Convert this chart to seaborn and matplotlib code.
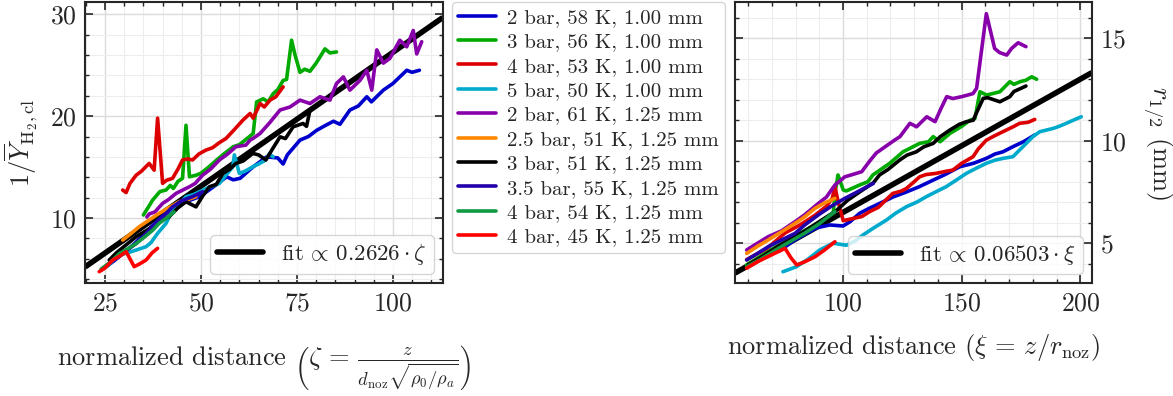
import numpy as np
import pandas as pd
import matplotlib
matplotlib.use("Agg")
import matplotlib.pyplot as plt
from matplotlib.lines import Line2D
import seaborn as sns

labels = ["2 bar, 58 K, 1.00 mm", "3 bar, 56 K, 1.00 mm", "4 bar, 53 K, 1.00 mm",
          "5 bar, 50 K, 1.00 mm", "2 bar, 61 K, 1.25 mm", "2.5 bar, 51 K, 1.25 mm",
          "3 bar, 51 K, 1.25 mm", "3.5 bar, 55 K, 1.25 mm", "4 bar, 54 K, 1.25 mm",
          "4 bar, 45 K, 1.25 mm"]
colors = ["#0000cc", "#00aa00", "#dd0000", "#00aacc", "#8800aa", "#ff8800",
          "#000000", "#2200aa", "#119944", "#ff0000"]

# left panel: 1/Y_H2,cl vs zeta
zeta_2b58 = [24, 27, 30, 33, 36.7, 40, 43, 46, 49.7, 53, 56.7, 58.4, 60.2, 63.5, 67.1, 70, 71.4, 72.5,
             75.8, 78, 80.1, 82, 84.5, 86.2, 88.8, 91, 93.2, 94.4, 97.5, 100, 101.8, 103.6, 105, 106.9]
invY_2b58 = [4.9, 5.7, 6.6, 7.6, 9.0, 10.2, 11.0, 11.6, 12.1, 13.0, 14.05, 13.75, 13.9, 15.0, 16.0, 15.9, 15.3, 16.2,
             17.65, 18.0, 18.6, 19.0, 19.5, 19.2, 20.6, 21.0, 21.9, 21.4, 22.55, 23.2, 23.85, 24.5, 24.3, 24.5]
zeta_3b56 = [35, 36.5, 37.4, 39.3, 40.9, 42, 42.8, 44, 45.2, 46.1, 47, 48.7, 50, 52, 54.1, 56, 58.4, 60, 62,
             63.6, 64.5, 66.2, 67.5, 68.8, 70, 71.4, 72.3, 73.6, 74.5, 75.8, 77, 78.4, 80, 81, 82.3, 83.6, 85.3]
invY_3b56 = [10.3, 11.2, 11.76, 12.6, 12.75, 13.2, 12.9, 13.6, 13.9, 19.1, 14.05, 14.2, 14.4, 15.0, 15.7, 16.3, 17.0, 17.2, 17.8,
             18.3, 21.4, 21.7, 21.4, 22.2, 22.6, 23.5, 23.6, 27.45, 26.0, 24.3, 24.6, 24.4, 25.2, 25.8, 26.6, 26.2, 26.3]
zeta_4b53 = [29.6, 30.5, 31.5, 33.1, 34.5, 36.5, 37.8, 38.7, 40, 41, 42.6, 44, 45.2, 46.5, 47.8, 49.5, 51.3,
             53, 54.8, 56.5, 58.5, 60.9, 62.8, 63.6, 65.4, 66.5, 68, 69.5, 71.4]
invY_4b53 = [12.75, 12.5, 13.4, 14.2, 14.6, 15.36, 14.7, 19.8, 13.4, 13.7, 13.9, 14.8, 15.7, 15.8, 15.7, 16.3, 16.67,
             16.9, 17.4, 17.8, 18.6, 19.6, 20.26, 19.8, 21.24, 20.9, 21.57, 21.9, 22.87]
zeta_5b50 = [24, 26, 28.7, 31, 33.1, 35.7, 37, 38.7, 40.9, 42.6, 44, 46.1, 48, 49.6, 52, 54.8, 56.5, 58.3, 58.7,
             60, 61.5, 63.5, 65, 66.9, 67.8, 68.8]
invY_5b50 = [4.9, 5.4, 6.37, 6.6, 6.86, 7.19, 7.6, 8.5, 9.48, 10.78, 11.2, 12.09, 12.3, 12.58, 13.0, 13.4, 14.2, 15.03, 16.2,
             14.38, 14.6, 15.03, 15.3, 15.7, 16.3, 16.0]
zeta_2b61 = [35.9, 36.5, 38, 40, 41.5, 43.5, 45, 47, 48.5, 50.4, 52.5, 54.8, 57, 59.1, 61.7, 62.8, 63.5, 65.4, 68,
             70.6, 73.2, 75.8, 78.4, 81, 83.6, 85.3, 87.1, 88.8, 91.4, 93.2, 94.5, 95.8, 97.5, 99.2, 101.8, 103.6,
             105.3, 106.2, 107.5]
invY_2b61 = [10.1, 10.4, 10.6, 11.44, 11.8, 12.42, 12.7, 13.07, 13.4, 14.2, 14.8, 15.7, 16.3, 17.0, 17.16, 17.65, 17.8, 18.3, 19.4,
             20.6, 20.9, 21.57, 21.24, 21.9, 21.57, 23.2, 23.85, 22.55, 23.5, 24.5, 22.55, 26.5, 25.2, 25.66, 27.45, 26.8,
             28.4, 26.1, 27.3]
zeta_25b51 = [29.6, 31.5, 33.9, 36.5, 39.1, 41.5, 44.3, 46.5, 48.7]
invY_25b51 = [7.84, 8.4, 9.15, 9.8, 10.46, 11.0, 11.6, 11.8, 12.09]
zeta_3b51 = [26.1, 28, 30.6, 33.1, 35, 37.6, 39.5, 41.7, 44, 46.1, 48.7, 50.5, 52.2, 54, 55.7, 57.5, 59.1, 61,
             63.5, 65, 66.9, 68.5, 70.6, 72, 74, 76.6, 77.5, 78.4]
invY_3b51 = [5.88, 6.6, 7.4, 8.17, 8.6, 9.2, 9.8, 10.13, 11.0, 11.6, 11.1, 12.2, 13.07, 13.3, 14.38, 14.8, 15.36, 15.6,
             16.34, 16.2, 15.7, 16.7, 17.97, 17.8, 18.95, 19.28, 19.0, 20.6]
zeta_35b55 = [25, 27.9, 30.5, 33.1, 35.5, 37.4, 40, 42.6, 45, 47.8, 50.4]
invY_35b55 = [5.2, 6.05, 6.8, 7.5, 8.4, 9.15, 10.1, 11.1, 11.7, 12.1, 12.58]
zeta_4b54 = [24, 26.5, 28.7, 31, 33.1, 35.5, 37.4, 39.1, 41, 43]
invY_4b54 = [5.0, 5.7, 6.5, 7.0, 7.5, 8.2, 8.8, 9.48, 10.0, 10.6]
zeta_4b45 = [23.5, 25, 27, 29, 30.5, 31.5, 32.6, 34, 35.7, 37.3, 38.7]
invY_4b45 = [4.74, 5.1, 5.88, 6.3, 6.7, 6.0, 5.23, 5.5, 5.88, 6.6, 7.03]

# right panel: r_1/2 vs xi
xi_2b58 = [73, 78.9, 84, 88.8, 94.4, 100, 103, 107, 111, 115.4, 121, 126.7, 132, 138, 143, 149.2, 155,
           160.4, 164, 167.4, 171.6, 176, 180.8]
r_2b58 = [4.6, 5.1, 5.45, 5.75, 5.89, 5.84, 6.05, 6.46, 6.7, 6.94, 7.25, 7.5, 7.75, 8.08, 8.35, 8.73, 8.9,
          9.14, 9.35, 9.46, 9.71, 9.95, 10.28]
xi_3b56 = [59.4, 68.5, 79.8, 89.6, 95.9, 96.6, 97.9, 100.1, 101.4, 107, 110.5, 112.6, 119.7, 125.3, 132.3, 136,
           138, 140.9, 145.1, 150, 153.5, 155.6, 157.7, 160.5, 163, 166.1, 170.3, 172, 174.6, 177, 179.5, 181.6]
r_3b56 = [3.94, 4.6, 5.35, 6.0, 6.46, 7.43, 8.33, 7.6, 7.55, 7.84, 8.0, 8.33, 8.9, 9.46, 9.87, 9.95,
          10.2, 9.95, 10.36, 10.7, 11.0, 11.09, 12.39, 12.23, 12.3, 12.39, 12.88, 12.75, 12.88, 12.95, 13.12, 13.0]
xi_4b53 = [59.4, 68, 75.6, 82, 88, 93, 95.5, 96.6, 98, 100.1, 104, 107.9, 111.2, 114.9, 118, 121, 124.7, 126.7,
           130, 132.3, 135, 139.3, 143, 146.3, 150, 154.8, 157, 160.4, 164, 168.8, 172, 174.4, 178, 180.8]
r_4b53 = [4.2, 4.75, 5.5, 5.9, 6.35, 6.8, 7.2, 7.76, 7.0, 6.1, 6.2, 6.3, 6.54, 6.75, 7.1, 7.43, 7.55, 7.67,
          8.0, 8.24, 8.35, 8.41, 8.5, 8.57, 8.9, 9.22, 9.6, 10.03, 10.25, 10.52, 10.7, 10.85, 10.9, 11.04]
xi_5b50 = [74.7, 80.3, 85, 90.2, 95.8, 101.4, 105, 108.4, 113, 118.3, 122, 126.7, 131, 135.1, 139, 143.5, 148,
           152, 156, 160.4, 164, 167.4, 171.6, 174, 177.2, 180, 182.9, 185, 188.5, 191, 194.1, 197, 200.4]
r_5b50 = [3.61, 3.85, 4.2, 4.67, 5.0, 4.9, 5.1, 5.4, 5.75, 6.13, 6.45, 6.78, 7.0, 7.27, 7.5, 7.76, 8.1,
          8.41, 8.65, 8.9, 9.05, 9.14, 9.22, 9.5, 9.87, 10.2, 10.44, 10.5, 10.6, 10.7, 10.85, 11.0, 11.17]
xi_2b61 = [59.4, 64, 68.5, 74, 79.8, 84, 89.6, 93, 96.6, 100.8, 104, 107.9, 111.2, 114, 118.3, 122, 124, 128.2,
           131, 135.3, 138.8, 141, 143.7, 146.3, 150, 154.8, 156.3, 160.4, 163.9, 166, 169, 171, 173.8, 177.1]
r_2b61 = [4.67, 5.0, 5.32, 5.6, 6.05, 6.4, 6.94, 7.25, 7.84, 8.24, 8.35, 8.49, 9.0, 9.4, 9.75, 10.05, 10.2, 10.85,
          10.68, 11.17, 10.93, 11.5, 12.15, 12.06, 12.15, 12.3, 12.56, 16.2, 14.5, 14.3, 14.18, 14.5, 14.78, 14.59]
xi_25b51 = [59.4, 64, 68.5, 74, 79.8, 84, 88.2, 92, 96.6]
r_25b51 = [4.5, 4.85, 5.16, 5.55, 5.97, 6.3, 6.7, 6.95, 7.19]
xi_3b51 = [60, 66, 72, 78, 84, 90, 97.3, 102, 107, 112.8, 115.4, 119, 123.9, 127, 130.9, 134, 138, 141, 145,
           149, 152, 154.9, 156, 159.1, 161, 166.1, 170.3, 172, 177.1]
r_3b51 = [3.95, 4.35, 4.8, 5.2, 5.6, 6.05, 6.6, 7.1, 7.5, 7.95, 8.33, 8.6, 9.06, 9.3, 9.46, 9.7, 9.87, 10.2, 10.52,
          10.8, 10.93, 11.0, 11.3, 12.07, 12.1, 11.9, 12.15, 12.4, 12.67]
xi_35b55 = [59.4, 64, 68.5, 74, 79.8, 84, 89.6, 95, 100.8, 106, 112.8]
r_35b55 = [4.18, 4.5, 4.83, 5.15, 5.48, 5.9, 6.38, 6.8, 7.19, 7.5, 7.92]
xi_4b54 = [59.4, 65, 72, 78, 84, 90, 96.6]
r_4b54 = [3.85, 4.2, 4.7, 5.1, 5.5, 5.95, 6.55]
xi_4b45 = [59.4, 64, 68.5, 72, 75.6, 78, 80.5, 84, 88.2, 92, 96.6]
r_4b45 = [3.78, 4.1, 4.35, 4.55, 4.75, 4.3, 3.94, 4.1, 4.34, 4.65, 5.07]

fit_left = 0.2626
fit_right = 0.06503

left_x = [zeta_2b58, zeta_3b56, zeta_4b53, zeta_5b50, zeta_2b61, zeta_25b51, zeta_3b51, zeta_35b55, zeta_4b54, zeta_4b45]
left_y = [invY_2b58, invY_3b56, invY_4b53, invY_5b50, invY_2b61, invY_25b51, invY_3b51, invY_35b55, invY_4b54, invY_4b45]
right_x = [xi_2b58, xi_3b56, xi_4b53, xi_5b50, xi_2b61, xi_25b51, xi_3b51, xi_35b55, xi_4b54, xi_4b45]
right_y = [r_2b58, r_3b56, r_4b53, r_5b50, r_2b61, r_25b51, r_3b51, r_35b55, r_4b54, r_4b45]


def long_frame(xs, ys):
    rows = []
    for lab, x, y in zip(labels, xs, ys):
        rows.append(pd.DataFrame({"x": x, "y": y, "label": lab}))
    return pd.concat(rows, ignore_index=True)


sns.set_theme(style="ticks")
plt.rcParams.update({
    "font.family": "serif",
    "font.serif": ["cmr10"],
    "mathtext.fontset": "cm",
    "axes.formatter.use_mathtext": True,
    "font.size": 18,
    "axes.linewidth": 1.5,
    "xtick.direction": "in", "ytick.direction": "in",
    "xtick.top": True, "ytick.right": True,
    "xtick.major.size": 5.5, "ytick.major.size": 5.5,
    "xtick.minor.size": 2.8, "ytick.minor.size": 2.8,
    "xtick.major.width": 1.2, "ytick.major.width": 1.2,
    "xtick.minor.width": 1.0, "ytick.minor.width": 1.0,
    "xtick.labelsize": 18.5, "ytick.labelsize": 18.5,
    "axes.labelsize": 18.5,
})

fig = plt.figure(figsize=(11.73, 3.96), dpi=100)
ax1 = fig.add_axes([0.0725, 0.2854, 0.305, 0.7096])
ax2 = fig.add_axes([0.6266, 0.2854, 0.3043, 0.7096])

for ax, xs, ys, slope, xlim, ylim in [
        (ax1, left_x, left_y, fit_left, (19.8, 113.0), (3.63, 31.2)),
        (ax2, right_x, right_y, fit_right, (54.5, 204.9), (3.06, 16.77))]:
    ax.set_xlim(*xlim)
    ax.set_ylim(*ylim)
    xx = np.array(xlim)
    ax.plot(xx, slope * xx, color="black", lw=4.0, zorder=2, solid_capstyle="butt")
    sns.lineplot(data=long_frame(xs, ys), x="x", y="y", hue="label", hue_order=labels,
                 palette=colors, sort=False, estimator=None, lw=2.6, legend=False, ax=ax, zorder=3)
    ax.minorticks_on()
    ax.grid(which="major", color="0.86", lw=1.0)
    ax.grid(which="minor", color="0.93", lw=0.8)
    ax.set_axisbelow(True)
    ax.tick_params(which="both", pad=6)

ax1.xaxis.set_major_locator(plt.MultipleLocator(25))
ax1.xaxis.set_minor_locator(plt.MultipleLocator(5))
ax1.yaxis.set_major_locator(plt.MultipleLocator(10))
ax1.yaxis.set_minor_locator(plt.MultipleLocator(2))
ax2.xaxis.set_major_locator(plt.MultipleLocator(50))
ax2.xaxis.set_minor_locator(plt.MultipleLocator(10))
ax2.yaxis.set_major_locator(plt.MultipleLocator(5))
ax2.yaxis.set_minor_locator(plt.MultipleLocator(1))
ax2.yaxis.tick_right()
ax2.yaxis.set_label_position("right")
ax2.tick_params(axis="y", which="both", left=True, right=True, labelleft=False, labelright=True)

ax1.set_ylabel(r"$1/\overline{Y}_{\mathrm{H_2,cl}}$", fontsize=19, labelpad=8)
ax1.set_xlabel(r"normalized distance $\left(\zeta\,=\,\frac{z}{d_{\mathrm{noz}}\sqrt{\rho_0/\rho_a}}\right)$",
               fontsize=19, labelpad=20)
ax2.set_ylabel(r"$r_{1/2}$ (mm)", rotation=270, labelpad=34, fontsize=19)
ax2.set_xlabel(r"normalized distance $(\xi\,=\,z/r_{\mathrm{noz}})$", fontsize=19, labelpad=12)

fit1 = Line2D([], [], color="black", lw=4.0)
ax1.legend([fit1], [r"$\mathrm{fit}\,\propto\,0.2626\cdot\zeta$"], loc="lower right", fontsize=16.5,
           handlelength=2.0, borderpad=0.3, handletextpad=0.8, borderaxespad=0.4)
fit2 = Line2D([], [], color="black", lw=4.0)
ax2.legend([fit2], [r"$\mathrm{fit}\,\propto\,0.06503\cdot\xi$"], loc="lower right", fontsize=16.5,
           handlelength=2.0, borderpad=0.3, handletextpad=0.8, borderaxespad=0.4)

handles = [Line2D([], [], color=c, lw=2.6) for c in colors]
fig.legend(handles, labels, loc="upper left", bbox_to_anchor=(452 / 1173, 1 - 2 / 396),
           borderaxespad=0, fontsize=15, labelspacing=0.28, handlelength=1.8,
           handletextpad=0.55, borderpad=0.3)

fig.savefig("out.png", dpi=100)
